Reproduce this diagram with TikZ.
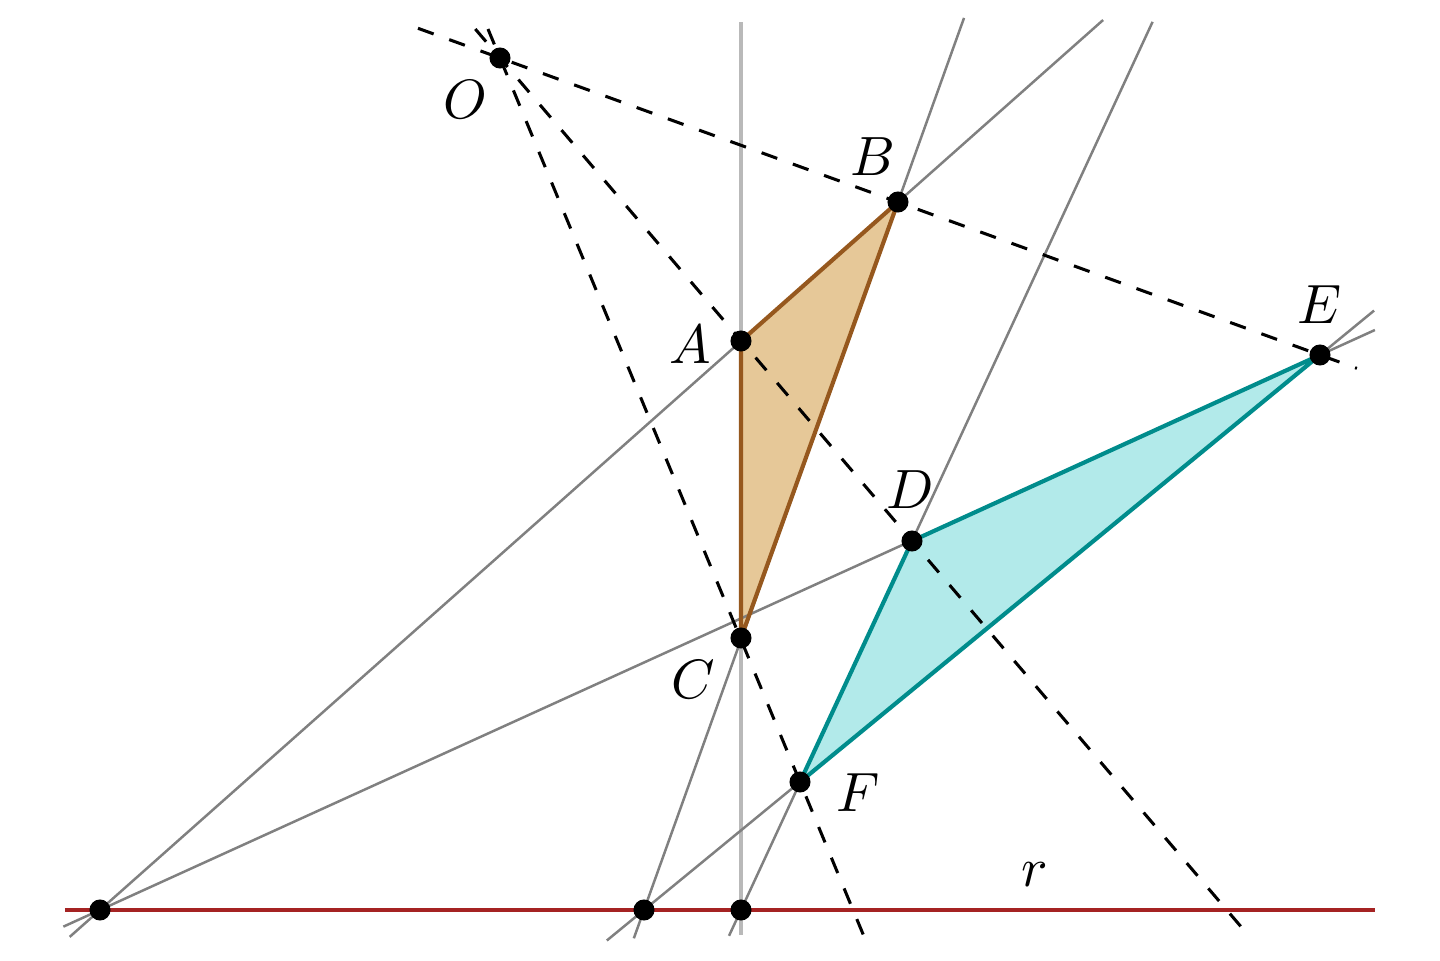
\documentclass[tikz,border=0pt]{standalone}
\usetikzlibrary{calc}
\definecolor{tanfill}{RGB}{230,200,152}
\definecolor{tanline}{RGB}{150,88,30}
\definecolor{cyanfill}{RGB}{178,234,234}
\definecolor{cyanline}{RGB}{0,140,140}
\definecolor{axisred}{RGB}{165,35,35}
\tikzset{
  guide/.style={
    draw,
    gray,
    line width=0.45pt
  },
  ray/.style={
    draw,
    dashed,
    line width=0.55pt
  },
  triA/.style={
    draw=tanline,
    line width=0.75pt,
    line join=round
  },
  triD/.style={
    draw=cyanline,
    line width=0.75pt,
    line join=round
  },
  dot/.style={
    circle,
    fill,
    inner sep=0pt,
    minimum size=3.8pt
  }
}

\begin{document}
\begin{tikzpicture}[x=0.00635cm, y=-0.00635cm]
  \useasboundingbox (0,0) rectangle (1440,961);
  \coordinate (O) at (500,58);
  \coordinate (A) at (741,341);
  \coordinate (B) at (898,202);
  \coordinate (C) at (741,638);
  \coordinate (D) at (912,541);
  \coordinate (E) at (1320,355);
  \coordinate (F) at (800,782);
  % the three meeting points on r
  \coordinate (P) at (100,910);
  \coordinate (Q) at (644,910);
  \coordinate (R) at (741,910);

  \fill[tanfill] (A) -- (B) -- (C) -- cycle;
  \fill[cyanfill] (D) -- (E) -- (F) -- cycle;

  \draw[axisred, line width=0.7pt] ($(P)+(-35,0)$) -- ($(P)+(1275,0)$);

  \draw[guide] ($(P)!-0.038!(B)$) -- ($(P)!1.257!(B)$);
  \draw[guide] ($(P)!-0.03!(E)$) -- ($(P)!1.045!(E)$);
  \draw[guide, gray!55, line width=0.6pt] ($(R)+(0,25)$) -- ($(R)+(0,-888)$);
  \draw[guide] ($(R)!-0.07!(D)$) -- ($(R)!2.407!(D)$);
  \draw[guide] ($(Q)!-0.04!(B)$) -- ($(Q)!1.26!(B)$);
  \draw[guide] ($(Q)!-0.055!(E)$) -- ($(Q)!1.08!(E)$);

  \draw[triA] (A) -- (B) -- (C) -- cycle;
  \draw[triD] (D) -- (E) -- (F) -- cycle;

  \draw[ray] ($(O)!-0.1!(E)$) -- ($(O)!1.045!(E)$);
  \draw[ray] ($(O)!-0.06!(D)$) -- ($(O)!1.816!(D)$);
  \draw[ray] ($(O)!-0.04!(F)$) -- ($(O)!1.211!(F)$);

  \foreach \p in {O,A,B,C,D,E,F,P,Q,R}
    \node[dot] (d\p) at (\p) {};

  \node (lO) at (465,100) {$O$};
  \node (lB) at (873,157) {$B$};
  \node (lE) at (1320,305) {$E$};
  \node (lA) at (690,345) {$A$};
  \node (lD) at (910,490) {$D$};
  \node (lC) at (693,680) {$C$};
  \node (lF) at (858,793) {$F$};
  \node (lr) at (1035,875) {$r$};
\end{tikzpicture}
\end{document}
